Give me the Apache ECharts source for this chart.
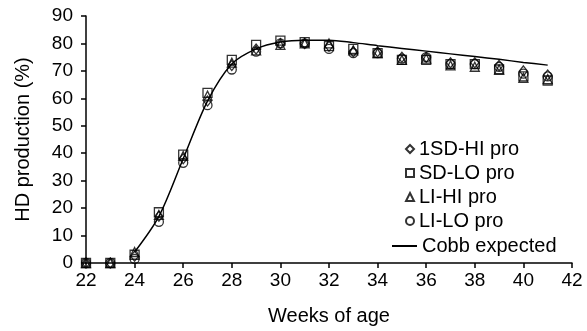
<!DOCTYPE html>
<html>
<head>
<meta charset="utf-8">
<script src="https://cdn.jsdelivr.net/npm/echarts@6/dist/echarts.min.js"></script>
<style>
  html, body { margin: 0; padding: 0; background: #fff; }
  #chart { width: 587px; height: 331px; }
</style>
</head>
<body>
<div id="chart"></div>
<script>
const weeks = [22, 23, 24, 25, 26, 27, 28, 29, 30, 31, 32, 33, 34, 35, 36, 37, 38, 39, 40, 41]
const sdHi = [0, 0, 2.5, 17, 38, 59, 72, 78, 80, 80, 79, 77, 77, 75, 75, 73, 73, 72, 70, 68.5]
const sdLo = [0, 0, 3, 18.5, 39.5, 62, 74, 79.5, 81, 80.5, 79, 78, 76.5, 74, 74, 72.5, 72.5, 70.5, 68, 66.5]
const liHi = [0, 0, 4, 17.5, 39, 61, 73, 77.5, 79.5, 80, 80, 77.5, 76.5, 74, 74.5, 72, 71.5, 70.5, 67.5, 67]
const liLo = [0, 0, 1.5, 15, 36.5, 57.5, 70.5, 77, 80, 80, 78, 76.5, 76.5, 74.5, 75, 72.5, 72.5, 71.5, 69, 68]
const cobbWeeks = [24, 25, 26, 27, 28, 29, 30, 31, 32, 33, 34, 35, 36, 37, 38, 39, 40, 41]
const cobb = [4, 17, 38, 59, 72.5, 78, 80.5, 81.2, 81.2, 80.3, 79.2, 78.2, 77.2, 76.2, 75.2, 74.2, 73.1, 72.1]

const FONT = 'Liberation Sans'
const pair = (xs, ys) => xs.map((x, i) => [x, ys[i]])

const markerSeries = (name, symbol, values) => ({
  name,
  type: 'scatter',
  symbol,
  symbolSize: symbol === 'diamond' ? [8, 10] : 9,
  data: pair(weeks, values),
  itemStyle: { color: 'rgba(0,0,0,0)', borderColor: '#000', borderWidth: 1.3 },
  z: 3,
})

const chart = echarts.init(document.getElementById('chart'), null, { renderer: 'canvas' })
chart.setOption({
  animation: false,
  textStyle: { fontFamily: FONT },
  grid: { left: 86, right: 15, top: 16, bottom: 68 },
  xAxis: {
    type: 'value',
    min: 22, max: 42, interval: 2,
    name: 'Weeks of age',
    nameLocation: 'middle',
    nameGap: 43,
    nameTextStyle: { fontSize: 20, color: '#000', fontFamily: FONT },
    axisLine: { lineStyle: { color: '#000', width: 1.5 } },
    axisTick: { length: 5, lineStyle: { color: '#000', width: 1.5 } },
    axisLabel: { fontSize: 19, color: '#000', margin: 8, fontFamily: FONT },
    splitLine: { show: false },
  },
  yAxis: {
    type: 'value',
    min: 0, max: 90, interval: 10,
    name: 'HD production (%)',
    nameLocation: 'middle',
    nameGap: 53,
    nameTextStyle: { fontSize: 20, color: '#000', fontFamily: FONT },
    axisLine: { show: true, lineStyle: { color: '#000', width: 1.5 } },
    axisTick: { show: true, length: 5, lineStyle: { color: '#000', width: 1.5 } },
    axisLabel: { fontSize: 19, color: '#000', margin: 13, fontFamily: FONT },
    splitLine: { show: false },
  },
  legend: [
    {
      orient: 'vertical',
      left: 400, top: 134,
      itemWidth: 8, itemHeight: 8, itemGap: 4,
      textStyle: { fontSize: 20, color: '#000', fontFamily: FONT },
      data: ['1SD-HI pro', 'SD-LO pro', 'LI-HI pro', 'LI-LO pro'],
    },
    {
      orient: 'vertical',
      left: 387, top: 231,
      itemWidth: 25, itemHeight: 2,
      textStyle: { fontSize: 20, color: '#000', fontFamily: FONT },
      data: [{ name: 'Cobb expected', icon: 'rect' }],
    },
  ],
  series: [
    markerSeries('1SD-HI pro', 'diamond', sdHi),
    markerSeries('SD-LO pro', 'rect', sdLo),
    markerSeries('LI-HI pro', 'triangle', liHi),
    markerSeries('LI-LO pro', 'circle', liLo),
    {
      name: 'Cobb expected',
      type: 'line',
      symbol: 'none',
      smooth: 0.3,
      data: pair(cobbWeeks, cobb),
      lineStyle: { color: '#000', width: 1.5 },
      itemStyle: { color: '#000' },
      z: 2,
    },
  ],
})
</script>
</body>
</html>
